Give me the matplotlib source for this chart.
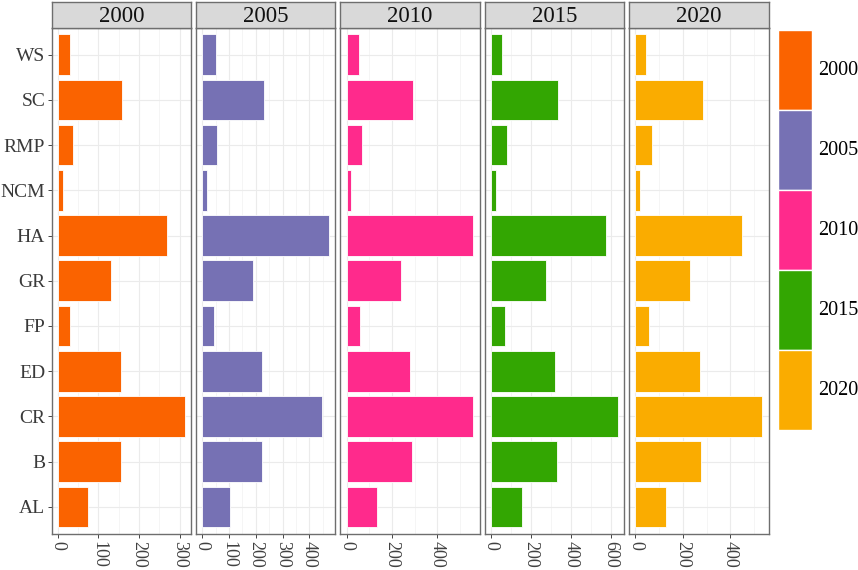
import matplotlib
matplotlib.use("Agg")
import matplotlib.pyplot as plt
from matplotlib.patches import Patch
from matplotlib.ticker import MultipleLocator

plt.rcParams['font.family'] = ['Liberation Serif', 'DejaVu Serif']

categories = ["AL", "B", "CR", "ED", "FP", "GR", "HA", "NCM", "RMP", "SC", "WS"]
years = ["2000", "2005", "2010", "2015", "2020"]
v2000 = [73, 156, 312, 156, 30, 132, 269, 11.5, 38, 159, 30]
v2005 = [105, 224, 448, 224, 45, 190, 474, 17, 55, 229, 52]
v2010 = [134, 287, 560, 281, 59, 238, 560, 21, 69, 293, 53]
v2015 = [155, 328, 635, 322, 70, 275, 577, 25, 80, 337, 57]
v2020 = [130, 276, 534, 272, 59, 231, 450, 21, 69, 283, 43]
series = [v2000, v2005, v2010, v2015, v2020]
colors = ["#FA6300", "#7671B4", "#FF2A8C", "#33A602", "#FAAC00"]
major_steps = [100, 100, 200, 200, 200]

W, H = 858, 570
fig = plt.figure(figsize=(W / 100, H / 100), dpi=100)

border_col = "#6E6E6E"
grid_col = "#EBEBEB"
panel_left = 51.5
panel_w = 139.5
gap = 4.9
panel_top = 27.5
panel_bot = 534.0
strip_top = 2.0

ypos = list(range(len(categories)))

for i, (yr, vals, col, step) in enumerate(zip(years, series, colors, major_steps)):
    x0 = panel_left + i * (panel_w + gap)
    ax = fig.add_axes([x0 / W, 1 - panel_bot / H, panel_w / W, (panel_bot - panel_top) / H])
    ax.barh(ypos, vals, height=0.9, color=col, edgecolor="white", linewidth=0.6, zorder=3)
    m = max(vals)
    ax.set_xlim(-0.05 * m, 1.05 * m)
    ax.set_ylim(-0.6, len(categories) - 0.4)
    ax.xaxis.set_major_locator(MultipleLocator(step))
    ax.xaxis.set_minor_locator(MultipleLocator(step / 2))
    ax.set_yticks(ypos)
    ax.grid(which="major", color=grid_col, linewidth=0.8, zorder=0)
    ax.grid(which="minor", axis="x", color="#F2F2F2", linewidth=0.5, zorder=0)
    ax.set_axisbelow(True)
    for s in ax.spines.values():
        s.set_color(border_col)
        s.set_linewidth(1.0)
    ax.tick_params(axis="both", which="major", length=3.0, width=0.7, color="#444444")
    ax.tick_params(axis="x", which="minor", length=0)
    ax.tick_params(axis="x", labelsize=13, labelcolor="#404040", pad=2)
    ticks = [t for t in ax.get_xticks() if -0.05 * m <= t <= 1.05 * m]
    ax.set_xticks(ticks)
    ax.set_xticklabels([str(int(t)) for t in ticks], rotation=270, ha="center", va="top")
    if i == 0:
        ax.set_yticklabels(categories, fontsize=14, color="#3A3A3A")
        ax.tick_params(axis="y", pad=1.5)
    else:
        ax.tick_params(axis="y", length=0, labelleft=False)

    sax = fig.add_axes([x0 / W, 1 - panel_top / H, panel_w / W, (panel_top - strip_top) / H])
    sax.set_facecolor("#D9D9D9")
    sax.set_xticks([])
    sax.set_yticks([])
    for s in sax.spines.values():
        s.set_color(border_col)
        s.set_linewidth(1.0)
    sax.text(0.5, 0.45, yr, transform=sax.transAxes, ha="center", va="center",
             fontsize=16.5, color="#111111")

handles = [Patch(facecolor=c, edgecolor="white", linewidth=1.0) for c in colors]
fs = 14.5
block_h_pt = 80 * 72 / 100
block_w_pt = 34 * 72 / 100
hh = (block_h_pt / fs - 0.245) / 0.65
fig.legend(handles, years, loc="upper left", bbox_to_anchor=(778 / W, 1 - 30 / H),
           frameon=False, fontsize=fs, borderpad=0, borderaxespad=0,
           handlelength=block_w_pt / fs, handleheight=hh,
           labelspacing=0, handletextpad=0.3)

fig.savefig("out.png", dpi=100)
